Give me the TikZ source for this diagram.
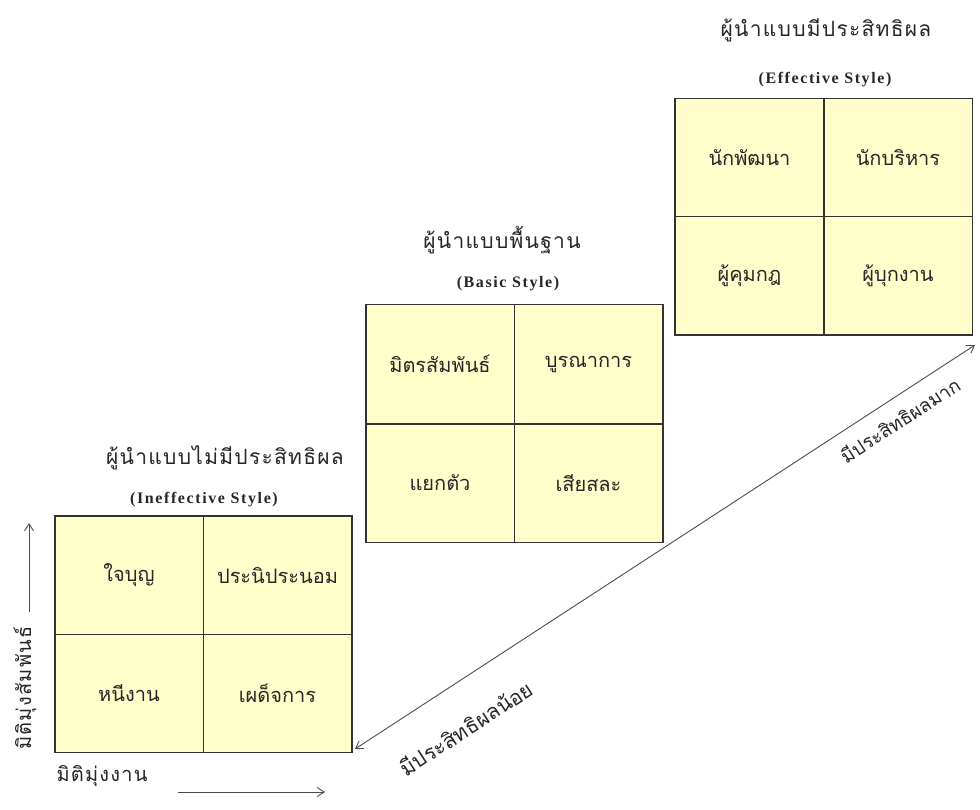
\documentclass[tikz,border=0pt]{standalone}
\usepackage{fontspec}
\setmainfont{Liberation Serif}
\newfontfamily\thaifont[Script=Thai]{Loma}
\newfontfamily\thaiwide[Script=Thai,LetterSpace=6]{Loma}
\newfontfamily\engwide[LetterSpace=10]{Liberation Serif}
\usetikzlibrary{arrows.meta}
\definecolor{boxfill}{RGB}{255,255,204}

\begin{document}
\begin{tikzpicture}[x=1pt, y=-1pt, >={Straight Barb[length=7pt,width=9pt]}]

\tikzset{
  cell/.style={draw=black!80, line width=1pt, fill=boxfill, inner sep=0pt,
    minimum width=148pt, minimum height=118pt,
    font=\thaifont\fontsize{20}{24}\selectfont, text=black!85},
  thaititle/.style={font=\thaiwide\fontsize{21}{25}\selectfont, text=black!85},
  engtitle/.style={font=\engwide\bfseries\fontsize{16}{19}\selectfont, text=black!85},
  axislabel/.style={font=\thaiwide\fontsize{20}{24}\selectfont, text=black!85},
  slantlabel/.style={font=\thaifont\fontsize{21}{25}\selectfont, text=black!85, rotate=33},
  axis/.style={->, black!70, line width=0.9pt},
}

\useasboundingbox (0,0) rectangle (980,810);

% Ineffective style
\node[cell] (ine-tl) at (129,575.5) {ใจบุญ};
\node[cell] (ine-tr) at (277.5,575.5) {ประนิประนอม};
\node[cell] (ine-bl) at (129,693) {หนีงาน};
\node[cell] (ine-br) at (277.5,693) {เผด็จการ};
\draw[black!80, line width=1.6pt] (ine-tl.north west) rectangle (ine-br.south east);
\node[thaititle] (ine-th) at (225,458) {ผู้นำแบบไม่มีประสิทธิผล};
\node[engtitle] (ine-en) at (204,500) {(Ineffective Style)};

% Basic style
\node[cell] (bas-tl) at (440,364) {มิตรสัมพันธ์};
\node[cell] (bas-tr) at (588.5,364) {บูรณาการ};
\node[cell] (bas-bl) at (440,483) {แยกตัว};
\node[cell] (bas-br) at (588.5,483) {เสียสละ};
\draw[black!80, line width=1.6pt] (bas-tl.north west) rectangle (bas-br.south east);
\node[thaititle] (bas-th) at (502,240) {ผู้นำแบบพื้นฐาน};
\node[engtitle] (bas-en) at (508,284) {(Basic Style)};

% Effective style
\node[cell] (eff-tl) at (749.5,158) {นักพัฒนา};
\node[cell] (eff-tr) at (898,158) {นักบริหาร};
\node[cell] (eff-bl) at (749.5,275.5) {ผู้คุมกฎ};
\node[cell] (eff-br) at (898,275.5) {ผู้บุกงาน};
\draw[black!80, line width=1.6pt] (eff-tl.north west) rectangle (eff-br.south east);
\node[thaititle] (eff-th) at (826,30) {ผู้นำแบบมีประสิทธิผล};
\node[engtitle] (eff-en) at (825,80) {(Effective Style)};

% Axes
\coordinate (rel-a) at (29,612);
\coordinate (rel-b) at (29,523);
\draw[axis] (rel-a) -- (rel-b);
\node[axislabel, rotate=90] (rel-lab) at (25,688) {มิติมุ่งสัมพันธ์};

\coordinate (task-a) at (178,792);
\coordinate (task-b) at (325,792);
\draw[axis] (task-a) -- (task-b);
\node[axislabel] (task-lab) at (102,776) {มิติมุ่งงาน};

% Effectiveness
\coordinate (low) at (355,749);
\coordinate (high) at (975,345);
\draw[axis, <->] (low) -- (high);
\node[slantlabel] (low-lab) at (466,728) {มีประสิทธิผลน้อย};
\node[slantlabel, font=\thaifont\fontsize{19}{23}\selectfont]
  (high-lab) at (900,420) {มีประสิทธิผลมาก};

\end{tikzpicture}
\end{document}
